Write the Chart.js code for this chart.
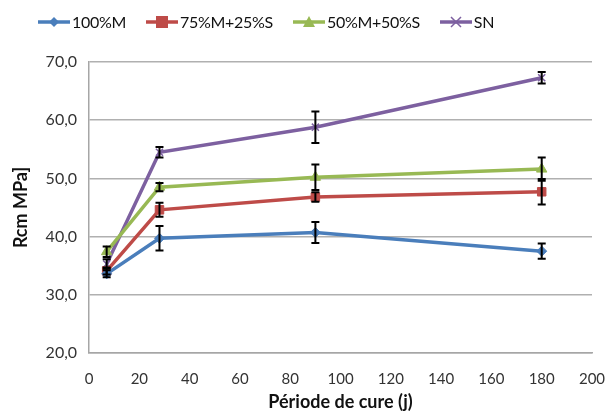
<!DOCTYPE html>
<html>
<head>
<meta charset="utf-8">
<script src="https://cdn.jsdelivr.net/npm/chart.js@4"></script>
<style>
  body { margin: 0; background: #fff; }
  #wrap { position: relative; width: 605px; height: 413px; }
  #legend { position: absolute; top: 12px; left: 38px; display: flex; align-items: center;
            font-family: Lato, sans-serif; font-size: 16px; letter-spacing: -0.3px; color: #111; }
  .item { display: flex; align-items: center; margin-right: 20px; }
  .item svg { margin-right: 2px; }
</style>
</head>
<body>
<div id="wrap">
  <div id="legend"></div>
  <canvas id="chart" width="605" height="413"></canvas>
</div>
<script>
const days = [7, 28, 90, 180];
const seriesNames = ["100%M", "75%M+25%S", "50%M+50%S", "SN"];
const m100 = [33.6, 39.7, 40.7, 37.5];
const m75 = [34.1, 44.6, 46.8, 47.7];
const m50 = [37.4, 48.5, 50.2, 51.6];
const sn = [35.3, 54.5, 58.8, 67.3];
const m100Err = [0.6, 2.1, 1.8, 1.3];
const m75Err = [0.6, 1.2, 0.8, 2.2];
const m50Err = [0.9, 0.7, 2.2, 2.0];
const snErr = [0.8, 0.9, 2.7, 1.0];
const yTicks = [20, 30, 40, 50, 60, 70];
const xTicks = [0, 20, 40, 60, 80, 100, 120, 140, 160, 180, 200];

const colors = ["#4a7ebb", "#be4b48", "#98b954", "#7d60a0"];
const styles = ["rectRot", "rect", "triangle", "crossRot"];
const radii = [5, 6, 6, 5];
const values = [m100, m75, m50, sn];
const errors = [m100Err, m75Err, m50Err, snErr];

// legend drawn as html, line + marker
const markerSvg = {
  rectRot: c => `<polygon points="16,1 21,6 16,11 11,6" fill="${c}"/>`,
  rect: c => `<rect x="10" y="0" width="12" height="12" fill="${c}"/>`,
  triangle: c => `<polygon points="16,0 22,11 10,11" fill="${c}"/>`,
  crossRot: c => `<path d="M11 1 L21 11 M21 1 L11 11" stroke="${c}" stroke-width="1.5"/>`
};
const legend = document.getElementById("legend");
seriesNames.forEach((name, i) => {
  legend.innerHTML += `<div class="item"><svg width="32" height="12">
    <line x1="0" y1="6" x2="32" y2="6" stroke="${colors[i]}" stroke-width="3.5"/>
    ${markerSvg[styles[i]](colors[i])}</svg><span>${name}</span></div>`;
});

const errorBars = {
  id: "errorBars",
  afterDatasetsDraw(chart) {
    const ctx = chart.ctx;
    const y = chart.scales.y;
    ctx.save();
    ctx.strokeStyle = "#000";
    ctx.lineWidth = 2;
    chart.data.datasets.forEach((ds, i) => {
      chart.getDatasetMeta(i).data.forEach((pt, j) => {
        const v = values[i][j], e = errors[i][j];
        const top = y.getPixelForValue(v + e), bot = y.getPixelForValue(v - e);
        ctx.beginPath();
        ctx.moveTo(pt.x, top); ctx.lineTo(pt.x, bot);
        ctx.moveTo(pt.x - 4, top); ctx.lineTo(pt.x + 4, top);
        ctx.moveTo(pt.x - 4, bot); ctx.lineTo(pt.x + 4, bot);
        ctx.stroke();
      });
    });
    ctx.restore();
  }
};

new Chart(document.getElementById("chart"), {
  type: "line",
  data: {
    datasets: seriesNames.map((name, i) => ({
      label: name,
      data: days.map((d, j) => ({ x: d, y: values[i][j] })),
      borderColor: colors[i],
      backgroundColor: colors[i],
      pointBorderColor: colors[i],
      borderWidth: 3.5,
      pointStyle: styles[i],
      pointRadius: radii[i],
      pointBorderWidth: styles[i] === "crossRot" ? 1.5 : 1,
      tension: 0
    }))
  },
  options: {
    responsive: false,
    animation: false,
    layout: { padding: { top: 62, right: 2, left: 10, bottom: 0 } },
    plugins: { legend: { display: false }, tooltip: { enabled: false } },
    scales: {
      x: {
        type: "linear", min: 0, max: 200,
        afterBuildTicks: s => { s.ticks = xTicks.map(v => ({ value: v })); },
        afterFit: s => { s.height = 60; s.paddingRight = 13; },
        grid: { display: false, drawTicks: false },
        border: { color: "#a6a6a6", width: 1.5 },
        ticks: { color: "#333", font: { family: "Lato", size: 15 }, padding: 17 },
        title: { display: true, text: "Période de cure (j)", color: "#111",
                 font: { family: "Lato", size: 18, weight: "bold" }, padding: { top: 0, bottom: 0 } }
      },
      y: {
        min: 20, max: 70,
        afterBuildTicks: s => { s.ticks = yTicks.map(v => ({ value: v })); },
        grid: { color: "#b0b0b0", lineWidth: 1.5, drawTicks: false },
        border: { color: "#a6a6a6", width: 1.5 },
        ticks: { color: "#333", font: { family: "Lato", size: 16 }, padding: 12,
                 callback: v => v.toFixed(1).replace(".", ",") },
        title: { display: true, text: "Rcm MPa]", color: "#111",
                 font: { family: "Lato", size: 18, weight: "bold" }, padding: { top: 0, bottom: 2 } }
      }
    }
  },
  plugins: [errorBars]
});
</script>
</body>
</html>
